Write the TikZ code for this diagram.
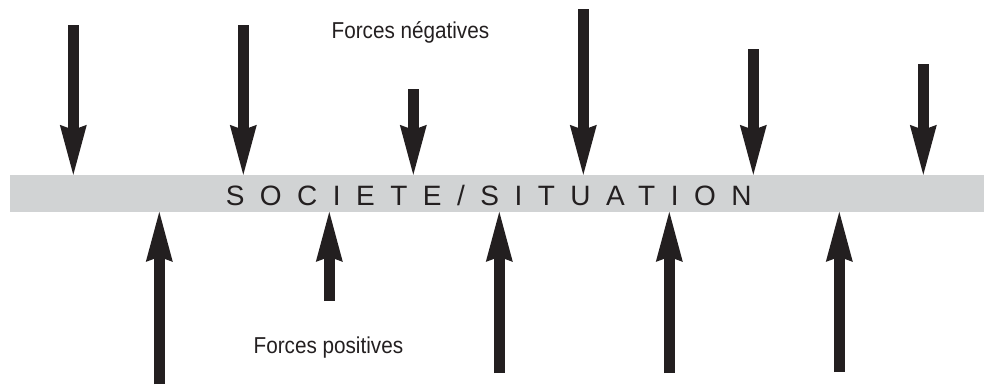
\documentclass[tikz,border=0pt]{standalone}
\usepackage{fontspec}
\setmainfont{Liberation Sans}
\newfontfamily\condfont[FakeStretch=0.9]{Liberation Sans}
\newfontfamily\trackfont[LetterSpace=55.3]{Liberation Sans}
\usetikzlibrary{arrows.meta}
\definecolor{ink}{HTML}{231F20}
\definecolor{bargrey}{HTML}{D1D3D4}
\tikzset{
  force/.style={draw=ink, line width=10.5pt,
    -{Stealth[length=50pt,width=27pt,inset=5pt,line width=0pt]}},
  barbox/.style={fill=bargrey, draw=none, inner sep=0pt,
    minimum width=974.5pt, minimum height=36.7pt},
  caption/.style={anchor=base west, inner sep=0pt, text=ink,
    font=\condfont\fontsize{23}{27}\selectfont},
  bartext/.style={anchor=base west, inner sep=0pt, text=ink,
    font=\trackfont\fontsize{28}{32}\selectfont}
}
\begin{document}
\begin{tikzpicture}[x=1pt,y=-1pt]
\useasboundingbox (0,0) rectangle (984,389);
\node[barbox] (bar) at (496.75,193.35) {};
\node[bartext] (title) at (225.6,205) {SOCIETE/SITUATION};
\node[caption] (neg) at (331.4,38) {Forces négatives};
\node[caption] (pos) at (253.4,353) {Forces positives};
% negative forces (down)
\coordinate (n1) at (73.3,25);
\coordinate (n2) at (243.3,25);
\coordinate (n3) at (413.3,89);
\coordinate (n4) at (583.3,9);
\coordinate (n5) at (753.3,49);
\coordinate (n6) at (923.3,64);
\foreach \i in {1,...,6}{
  \draw[force] (n\i) -- (n\i |- bar.north);
}
% positive forces (up)
\coordinate (p1) at (159.3,384);
\coordinate (p2) at (329.3,301);
\coordinate (p3) at (499.3,373);
\coordinate (p4) at (669.3,373);
\coordinate (p5) at (839.3,372);
\foreach \i in {1,...,5}{
  \draw[force] (p\i) -- (p\i |- bar.south);
}
\end{tikzpicture}
\end{document}
